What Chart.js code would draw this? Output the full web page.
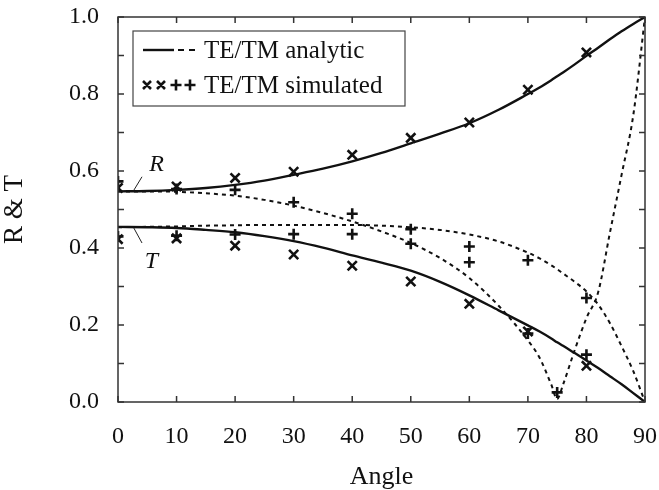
<!DOCTYPE html>
<html lang="en">
    <head>
        <meta charset="UTF-8" />
        <title>R &amp; T vs Angle</title>
        <style>
            body, html {
                margin: 0;
                padding: 0;
                background: #fff;
            }
        </style>
    </head>
    <body>
        <canvas id="rt-chart" width="659" height="490"></canvas>
    </body>
    <script src="https://cdn.jsdelivr.net/npm/chart.js@4.4.0/dist/chart.umd.min.js"></script>
    <script>
        // analytic curves
        const angles = [0, 5, 10, 15, 20, 25, 30, 35, 40, 45, 50, 55, 60, 65, 70, 72, 74, 75, 76, 78, 80, 82, 84, 86, 88, 90];
        const rTE = [0.547, 0.548, 0.551, 0.556, 0.564, 0.575, 0.590, 0.606, 0.625, 0.647, 0.672, 0.697, 0.724, 0.759, 0.800, 0.817, 0.836, 0.846, 0.856, 0.877, 0.899, 0.920, 0.942, 0.963, 0.982, 1.000];
        const tTE = [0.455, 0.454, 0.452, 0.447, 0.441, 0.431, 0.418, 0.401, 0.381, 0.362, 0.341, 0.312, 0.277, 0.238, 0.199, 0.183, 0.165, 0.155, 0.146, 0.127, 0.108, 0.088, 0.067, 0.046, 0.023, 0.000];
        const rTM = [0.547, 0.547, 0.546, 0.542, 0.536, 0.525, 0.510, 0.491, 0.469, 0.443, 0.413, 0.374, 0.322, 0.250, 0.160, 0.115, 0.045, 0.008, 0.045, 0.135, 0.218, 0.285, 0.439, 0.590, 0.745, 1.000];
        const tTM = [0.454, 0.455, 0.456, 0.458, 0.459, 0.460, 0.460, 0.460, 0.460, 0.458, 0.454, 0.447, 0.435, 0.417, 0.388, 0.373, 0.355, 0.345, 0.334, 0.312, 0.287, 0.253, 0.205, 0.145, 0.080, 0.000];

        // simulated points
        const teSimAngles = [0, 10, 20, 30, 40, 50, 60, 70, 80];
        const rTESim = [0.556, 0.560, 0.582, 0.598, 0.642, 0.686, 0.726, 0.811, 0.908];
        const tTESim = [0.423, 0.425, 0.406, 0.383, 0.354, 0.313, 0.255, 0.183, 0.094];
        const tmSimAngles = [0, 10, 20, 30, 40, 50, 60, 70, 75, 80];
        const rTMSim = [0.573, 0.553, 0.551, 0.519, 0.489, 0.411, 0.363, 0.178, 0.025, 0.270];
        const tTMSim = [0.430, 0.432, 0.435, 0.436, 0.436, 0.449, 0.404, 0.368, null, 0.123];

        const xTicks = [0, 10, 20, 30, 40, 50, 60, 70, 80, 90];
        const yTickLabels = ["0.0", "0.2", "0.4", "0.6", "0.8", "1.0"];

        const SERIF = "'Liberation Serif', 'DejaVu Serif', serif";
        const INK = "#111";
        const AXIS = "#333";

        function pts(xs, ys) {
            return xs.map((a, i) => ({ x: a, y: ys[i] }));
        }

        function curve(ys, dashed) {
            return {
                data: pts(angles, ys),
                borderColor: INK,
                borderWidth: dashed ? 2 : 2.4,
                borderDash: dashed ? [4, 4] : [],
                pointRadius: 0,
                cubicInterpolationMode: "monotone",
                fill: false,
            };
        }

        function marks(xs, ys, style, r) {
            return {
                data: pts(xs, ys),
                showLine: false,
                pointStyle: style,
                pointRadius: r,
                pointBorderWidth: 2.6,
                pointBorderColor: INK,
                pointBackgroundColor: INK,
            };
        }

        // box, inward ticks, legend and R/T labels
        const decor = {
            id: "decor",
            afterDraw(chart) {
                const { ctx, chartArea: a, scales: { x, y } } = chart;
                ctx.save();
                ctx.strokeStyle = AXIS;
                ctx.lineWidth = 1.5;
                ctx.strokeRect(a.left, a.top, a.right - a.left, a.bottom - a.top);
                ctx.beginPath();
                x.ticks.forEach((t) => {
                    const px = x.getPixelForValue(t.value);
                    ctx.moveTo(px, a.bottom); ctx.lineTo(px, a.bottom - 6);
                    ctx.moveTo(px, a.top); ctx.lineTo(px, a.top + 6);
                });
                y.ticks.forEach((t) => {
                    const py = y.getPixelForValue(t.value);
                    ctx.moveTo(a.left, py); ctx.lineTo(a.left + 6, py);
                    ctx.moveTo(a.right, py); ctx.lineTo(a.right - 6, py);
                });
                ctx.stroke();

                // legend
                const lx = a.left + 15, ly = a.top + 14;
                ctx.fillStyle = "#fff";
                ctx.fillRect(lx, ly, 272, 75);
                ctx.lineWidth = 1.2;
                ctx.strokeStyle = "#444";
                ctx.strokeRect(lx, ly, 272, 75);

                const r1 = ly + 19, r2 = ly + 54;
                ctx.strokeStyle = INK;
                ctx.lineWidth = 2.4;
                ctx.beginPath();
                ctx.moveTo(lx + 10, r1); ctx.lineTo(lx + 41, r1);
                ctx.stroke();
                ctx.lineWidth = 2;
                ctx.beginPath();
                ctx.moveTo(lx + 45, r1); ctx.lineTo(lx + 51, r1);
                ctx.moveTo(lx + 56, r1); ctx.lineTo(lx + 62, r1);
                ctx.stroke();

                ctx.lineWidth = 2.6;
                ctx.beginPath();
                [lx + 14, lx + 28].forEach((cx) => {
                    ctx.moveTo(cx - 4, r2 - 4); ctx.lineTo(cx + 4, r2 + 4);
                    ctx.moveTo(cx - 4, r2 + 4); ctx.lineTo(cx + 4, r2 - 4);
                });
                [lx + 43, lx + 57].forEach((cx) => {
                    ctx.moveTo(cx - 5.5, r2); ctx.lineTo(cx + 5.5, r2);
                    ctx.moveTo(cx, r2 - 5.5); ctx.lineTo(cx, r2 + 5.5);
                });
                ctx.stroke();

                ctx.fillStyle = INK;
                ctx.font = "25px " + SERIF;
                ctx.textBaseline = "middle";
                ctx.textAlign = "left";
                ctx.fillText("TE/TM analytic", lx + 71, r1 + 1);
                ctx.fillText("TE/TM simulated", lx + 71, r2 + 1);

                // R and T pointers
                ctx.lineWidth = 1;
                ctx.strokeStyle = "#222";
                ctx.beginPath();
                ctx.moveTo(x.getPixelForValue(2.7), y.getPixelForValue(0.55));
                ctx.lineTo(x.getPixelForValue(4.1), y.getPixelForValue(0.585));
                ctx.moveTo(x.getPixelForValue(2.7), y.getPixelForValue(0.452));
                ctx.lineTo(x.getPixelForValue(4.1), y.getPixelForValue(0.413));
                ctx.stroke();
                ctx.font = "italic 24px " + SERIF;
                ctx.textAlign = "center";
                ctx.fillText("R", x.getPixelForValue(6.6), y.getPixelForValue(0.616));
                ctx.fillText("T", x.getPixelForValue(5.7), y.getPixelForValue(0.365));
                ctx.restore();
            },
        };

        new Chart(document.getElementById("rt-chart"), {
            type: "line",
            data: {
                datasets: [
                    curve(rTE, false),
                    curve(tTE, false),
                    curve(rTM, true),
                    curve(tTM, true),
                    marks(teSimAngles, rTESim, "crossRot", 6.5),
                    marks(teSimAngles, tTESim, "crossRot", 6.5),
                    marks(tmSimAngles, rTMSim, "cross", 5.5),
                    marks(tmSimAngles, tTMSim, "cross", 5.5),
                ],
            },
            options: {
                responsive: false,
                animation: false,
                layout: { padding: { top: 17, right: 14, left: 0, bottom: 0 } },
                plugins: {
                    legend: { display: false },
                    tooltip: { enabled: false },
                },
                scales: {
                    x: {
                        type: "linear",
                        min: 0,
                        max: 90,
                        afterBuildTicks: (s) => { s.ticks = xTicks.map((v) => ({ value: v })); },
                        // fixed size, and no extra room for label overflow
                        afterFit: (s) => { s.height = 88; s.paddingLeft = 0; s.paddingRight = 0; },
                        grid: { display: false, drawTicks: false },
                        border: { display: false },
                        ticks: {
                            color: INK,
                            padding: 20,
                            maxRotation: 0,
                            font: { family: SERIF, size: 24 },
                        },
                        title: {
                            display: true,
                            text: "Angle",
                            color: INK,
                            padding: { top: 0, bottom: 0 },
                            font: { family: SERIF, size: 26, lineHeight: 1 },
                        },
                    },
                    y: {
                        min: 0,
                        max: 1,
                        ticks: {
                            stepSize: 0.1,
                            color: INK,
                            padding: 19,
                            font: { family: SERIF, size: 24 },
                            callback: (v) => {
                                const k = Math.round(v * 10);
                                return k % 2 === 0 ? yTickLabels[k / 2] : "";
                            },
                        },
                        afterFit: (s) => { s.width = 118; s.paddingTop = 0; s.paddingBottom = 0; },
                        grid: { display: false, drawTicks: false },
                        border: { display: false },
                        title: {
                            display: true,
                            text: "R & T",
                            color: INK,
                            padding: { top: 1.5, bottom: 0 },
                            font: { family: SERIF, size: 27, lineHeight: 1 },
                        },
                    },
                },
            },
            plugins: [decor],
        });
    </script>
</html>
